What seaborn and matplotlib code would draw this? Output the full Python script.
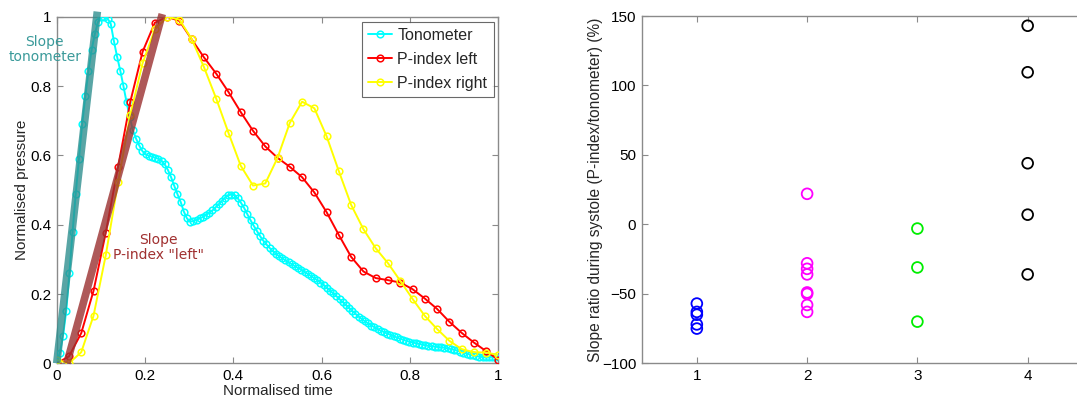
import numpy as np
import pandas as pd
import matplotlib
matplotlib.use("Agg")
import matplotlib.pyplot as plt
import seaborn as sns

# ---------------- data ----------------
tonometer = [0.00, 0.03, 0.08, 0.15, 0.26, 0.38, 0.49, 0.59, 0.69, 0.77,
             0.845, 0.905, 0.95, 0.985, 1.0, 1.0, 0.995, 0.98, 0.93, 0.885,
             0.845, 0.80, 0.753, 0.71, 0.672, 0.648, 0.628, 0.612, 0.603, 0.599,
             0.596, 0.593, 0.590, 0.584, 0.574, 0.558, 0.537, 0.512, 0.488, 0.466,
             0.438, 0.418, 0.409, 0.410, 0.414, 0.418, 0.422, 0.428, 0.434, 0.441,
             0.450, 0.459, 0.469, 0.478, 0.485, 0.487, 0.485, 0.476, 0.463, 0.448,
             0.430, 0.413, 0.397, 0.382, 0.367, 0.354, 0.343, 0.333, 0.324, 0.316,
             0.309, 0.303, 0.297, 0.291, 0.286, 0.280, 0.275, 0.270, 0.264, 0.258,
             0.252, 0.246, 0.240, 0.233, 0.226, 0.218, 0.210, 0.202, 0.194, 0.185,
             0.177, 0.168, 0.160, 0.151, 0.143, 0.135, 0.128, 0.121, 0.115, 0.109,
             0.104, 0.099, 0.094, 0.090, 0.086, 0.082, 0.078, 0.075, 0.071, 0.068,
             0.065, 0.062, 0.060, 0.058, 0.056, 0.054, 0.052, 0.050, 0.049, 0.048,
             0.047, 0.046, 0.045, 0.043, 0.041, 0.039, 0.037, 0.034, 0.031, 0.028,
             0.025, 0.023, 0.021, 0.019, 0.018, 0.017, 0.018, 0.019, 0.017, 0.010]
pindex_left = [0.0, 0.02, 0.087, 0.209, 0.377, 0.567, 0.755, 0.899, 0.983, 1.0,
               0.988, 0.935, 0.883, 0.836, 0.783, 0.725, 0.671, 0.626, 0.593, 0.567,
               0.537, 0.493, 0.436, 0.370, 0.307, 0.265, 0.246, 0.240, 0.233, 0.214,
               0.187, 0.157, 0.120, 0.088, 0.060, 0.035, 0.010]
pindex_right = [0.01, 0.0, 0.032, 0.137, 0.312, 0.522, 0.718, 0.866, 0.964, 1.0,
                0.992, 0.936, 0.855, 0.764, 0.665, 0.570, 0.513, 0.519, 0.593, 0.694,
                0.755, 0.736, 0.655, 0.554, 0.457, 0.387, 0.332, 0.289, 0.238, 0.186,
                0.137, 0.099, 0.065, 0.041, 0.032, 0.031, 0.024]
t_tono = np.linspace(0, 1, len(tonometer))
t_pindex = np.linspace(0, 1, len(pindex_left))

slope_tono_t = [0.0, 0.092]
slope_tono_v = [0.0, 1.015]
slope_left_t = [0.023, 0.239]
slope_left_v = [0.0, 1.008]

group1 = [-57, -63, -65, -72, -75]
group2 = [22, -28, -32, -36, -49, -50, -58, -63]
group3 = [-3, -31, -70]
group4 = [143, 109.5, 44, 7, -36]
group_ids = [1, 2, 3, 4]
group_colors = ["#0000ff", "#ff00ff", "#00ee00", "#000000"]

# ---------------- style ----------------
sns.set_theme(style="white")
plt.rcParams["font.family"] = ["Liberation Sans", "DejaVu Sans"]
spine_col = "#8a8a8a"

W, H = 1077, 403
fig = plt.figure(figsize=(W / 100, H / 100), dpi=100)
ax1 = fig.add_axes([56.7 / W, 1 - 363.3 / H, (498.4 - 56.7) / W, (363.3 - 16.8) / H])
ax2 = fig.add_axes([641.7 / W, 1 - 363.3 / H, (1082.8 - 641.7) / W, (363.3 - 16.0) / H])

def style_axes(ax):
    for s in ax.spines.values():
        s.set_visible(True)
        s.set_color(spine_col)
        s.set_linewidth(1.0)
    ax.tick_params(direction="in", length=4, width=0.8, color=spine_col,
                   top=True, right=True, bottom=True, left=True,
                   labelsize=11, labelcolor="black", pad=4)
    ax.grid(False)

# ---------------- left panel ----------------
df_t = pd.DataFrame({"t": t_tono, "v": tonometer})
df_l = pd.DataFrame({"t": t_pindex, "v": pindex_left})
df_r = pd.DataFrame({"t": t_pindex, "v": pindex_right})

sns.lineplot(data=df_t, x="t", y="v", ax=ax1, color="#00ffff", lw=1.4,
             marker="o", markersize=4.8, markerfacecolor="none",
             markeredgecolor="#00ffff", markeredgewidth=1.1, label="Tonometer",
             zorder=3)
sns.lineplot(data=df_l, x="t", y="v", ax=ax1, color="#ff0000", lw=1.4,
             marker="o", markersize=4.8, markerfacecolor="none",
             markeredgecolor="#ff0000", markeredgewidth=1.1, label="P-index left",
             zorder=4)
sns.lineplot(data=df_r, x="t", y="v", ax=ax1, color="#ffff00", lw=1.4,
             marker="o", markersize=4.8, markerfacecolor="none",
             markeredgecolor="#ffff00", markeredgewidth=1.1, label="P-index right",
             zorder=5)

ax1.plot(slope_tono_t, slope_tono_v, color="#2f8f8f", alpha=0.8, lw=5.5,
         solid_capstyle="butt", zorder=6, clip_on=False)
ax1.plot(slope_left_t, slope_left_v, color="#9a3030", alpha=0.8, lw=5.5,
         solid_capstyle="butt", zorder=6, clip_on=False)

ax1.text(-0.027, 0.905, "Slope\ntonometer", color="#3a9a9a", fontsize=10,
         family="DejaVu Sans", ha="center", va="center", linespacing=1.1,
         clip_on=False)
ax1.text(0.23, 0.335, 'Slope\nP-index "left"', color="#a03030", fontsize=10,
         family="DejaVu Sans", ha="center", va="center", linespacing=1.1)

ax1.set_xlim(0, 1)
ax1.set_ylim(0, 1)
ax1.set_xticks([0, 0.2, 0.4, 0.6, 0.8, 1])
ax1.set_xticklabels(["0", "0.2", "0.4", "0.6", "0.8", "1"])
ax1.set_yticks([0, 0.2, 0.4, 0.6, 0.8, 1])
ax1.set_yticklabels(["0", "0.2", "0.4", "0.6", "0.8", "1"])
ax1.set_xlabel("Normalised time", fontsize=11, labelpad=1)
ax1.set_ylabel("Normalised pressure", fontsize=11, labelpad=1)
style_axes(ax1)
leg = ax1.legend(loc="upper right", fontsize=11.5, frameon=True, fancybox=False,
                 borderpad=0.4, handlelength=1.5, handletextpad=0.3,
                 labelspacing=0.55, borderaxespad=0.3)
leg.get_frame().set_edgecolor("#444444")
leg.get_frame().set_linewidth(0.8)

# ---------------- right panel ----------------
groups = [group1, group2, group3, group4]
for gid, vals, col in zip(group_ids, groups, group_colors):
    d = pd.DataFrame({"g": [gid] * len(vals), "r": vals})
    sns.scatterplot(data=d, x="g", y="r", ax=ax2, marker="o", s=60,
                    facecolor="none", edgecolor=col, linewidth=1.3, zorder=3)

ax2.set_xlim(0.5, 4.5)
ax2.set_ylim(-100, 150)
ax2.set_xticks([1, 2, 3, 4])
ax2.set_yticks([-100, -50, 0, 50, 100, 150])
ax2.set_xlabel("")
ax2.set_ylabel("Slope ratio during systole (P-index/tonometer) (%)", fontsize=11.2,
               labelpad=-1)
style_axes(ax2)

fig.savefig("out.png", dpi=100)
